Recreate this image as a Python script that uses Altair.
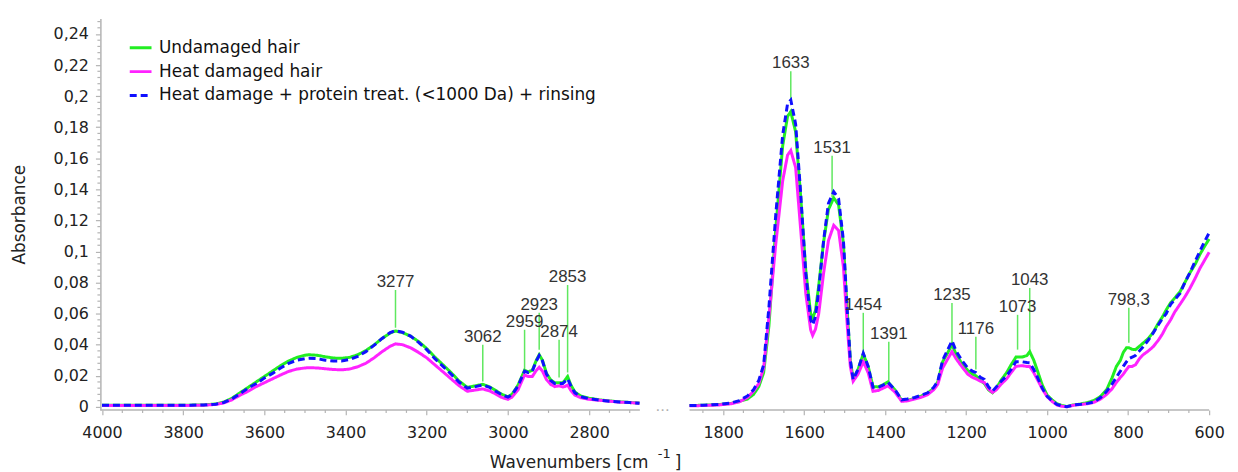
import altair as alt
import pandas as pd

series_names = ["Undamaged hair", "Heat damaged hair",
                "Heat damage + protein treat. (<1000 Da) + rinsing"]
series_colors = ["#22ee22", "#ff22ff", "#1010ff"]
series_dashes = [[1, 0], [1, 0], [7, 4]]

# ---------- left segment (4000 - 2675 cm-1) ----------
left_w = [4000, 3900, 3800, 3750, 3720, 3700, 3680, 3660, 3640, 3620, 3600, 3580, 3560,
          3540, 3520, 3500, 3490, 3470, 3450, 3430, 3410, 3390, 3370, 3350, 3330, 3310,
          3290, 3277, 3260, 3240, 3220, 3200, 3180, 3160, 3140, 3120, 3100, 3080, 3062,
          3045, 3030, 3015, 3000, 2990, 2975, 2965, 2959, 2950, 2940, 2930, 2923, 2915,
          2905, 2895, 2885, 2874, 2865, 2860, 2853, 2845, 2835, 2820, 2800, 2775, 2750,
          2725, 2700, 2676]
left_undamaged = [0.001, 0.001, 0.001, 0.0012, 0.0018, 0.003, 0.0055, 0.009, 0.0125, 0.016,
                  0.0195, 0.023, 0.0265, 0.0295, 0.0318, 0.0332, 0.0335, 0.0332, 0.0322,
                  0.0314, 0.0312, 0.0318, 0.0335, 0.0362, 0.0398, 0.044, 0.0475, 0.0488,
                  0.0478, 0.0455, 0.042, 0.0375, 0.032, 0.027, 0.022, 0.0165, 0.0125, 0.0135,
                  0.0145, 0.0128, 0.0105, 0.008, 0.0065, 0.008, 0.014, 0.020, 0.0235, 0.0225,
                  0.0235, 0.030, 0.0335, 0.030, 0.0215, 0.0175, 0.0155, 0.0155, 0.0155, 0.017,
                  0.0195, 0.014, 0.0095, 0.0068, 0.0055, 0.0045, 0.0038, 0.0032, 0.0028, 0.0024]
left_heat = [0.0008, 0.0008, 0.0008, 0.001, 0.0015, 0.0025, 0.0045, 0.0075, 0.010, 0.013,
             0.0155, 0.018, 0.0205, 0.0228, 0.0243, 0.025, 0.0252, 0.025, 0.0245, 0.024,
             0.0238, 0.0243, 0.0258, 0.028, 0.0315, 0.0355, 0.039, 0.0405, 0.040, 0.038,
             0.035, 0.0315, 0.027, 0.0225, 0.018, 0.0135, 0.010, 0.0108, 0.0115, 0.0102,
             0.0082, 0.006, 0.0048, 0.0062, 0.011, 0.017, 0.0205, 0.0195, 0.0195, 0.0235,
             0.0255, 0.023, 0.0175, 0.0145, 0.013, 0.0135, 0.0128, 0.013, 0.014, 0.0105,
             0.0075, 0.0058, 0.0048, 0.0042, 0.0036, 0.003, 0.0027, 0.0023]
left_treat = [0.001, 0.001, 0.001, 0.0012, 0.0017, 0.0028, 0.005, 0.0085, 0.012, 0.015,
              0.0185, 0.0215, 0.025, 0.028, 0.030, 0.031, 0.0312, 0.031, 0.030, 0.0295,
              0.0295, 0.0305, 0.0325, 0.0355, 0.0395, 0.044, 0.0478, 0.049, 0.048, 0.0455,
              0.0415, 0.0368, 0.031, 0.026, 0.021, 0.0158, 0.012, 0.013, 0.014, 0.0125,
              0.010, 0.0078, 0.0062, 0.0078, 0.0135, 0.0195, 0.023, 0.022, 0.023, 0.0295,
              0.033, 0.0295, 0.021, 0.017, 0.015, 0.015, 0.015, 0.0162, 0.018, 0.0135,
              0.009, 0.0065, 0.0052, 0.0043, 0.0036, 0.0031, 0.0027, 0.0023]

# ---------- right segment (1883 - 600 cm-1) ----------
right_w = [1883, 1850, 1810, 1780, 1760, 1740, 1725, 1712, 1700, 1687, 1670, 1653, 1641,
           1633, 1621, 1609, 1596, 1584, 1579, 1572, 1564, 1552, 1540, 1527, 1515, 1503,
           1494, 1486, 1479, 1467, 1454, 1442, 1430, 1417, 1405, 1393, 1376, 1359, 1345,
           1327, 1310, 1295, 1280, 1270, 1258, 1245, 1235, 1225, 1211, 1196, 1185, 1176,
           1165, 1155, 1145, 1135, 1125, 1114, 1100, 1089, 1077, 1062, 1050, 1043, 1033,
           1025, 1012, 1000, 988, 976, 963, 951, 935, 917, 900, 885, 868, 853, 840, 829,
           819, 812, 804, 798, 790, 782, 772, 763, 750, 738, 725, 715, 706, 695, 685, 672,
           660, 648, 634, 623, 612, 600]
right_undamaged = [0.0008, 0.001, 0.0015, 0.0022, 0.0035, 0.005, 0.008, 0.013, 0.022, 0.052,
                   0.115, 0.168, 0.187, 0.190, 0.177, 0.137, 0.088, 0.060, 0.057, 0.062,
                   0.078, 0.106, 0.127, 0.1345, 0.130, 0.105, 0.063, 0.030, 0.018, 0.024,
                   0.034, 0.026, 0.013, 0.0128, 0.0142, 0.016, 0.011, 0.004, 0.0042, 0.0055,
                   0.007, 0.0088, 0.012, 0.016, 0.029, 0.035, 0.040, 0.034, 0.028, 0.0235,
                   0.021, 0.020, 0.017, 0.015, 0.011, 0.009, 0.012, 0.017, 0.022, 0.027,
                   0.032, 0.032, 0.033, 0.0355, 0.030, 0.024, 0.014, 0.0075, 0.0045, 0.002,
                   0.0008, 0.0002, 0.0012, 0.0018, 0.0028, 0.004, 0.0067, 0.011, 0.0185,
                   0.026, 0.030, 0.035, 0.038, 0.038, 0.037, 0.0368, 0.039, 0.041, 0.044,
                   0.048, 0.054, 0.058, 0.0624, 0.067, 0.070, 0.074, 0.080, 0.086, 0.092,
                   0.098, 0.103, 0.108]
right_heat = [0.0006, 0.0008, 0.0012, 0.002, 0.0032, 0.006, 0.010, 0.015, 0.025, 0.058,
              0.105, 0.1455, 0.162, 0.165, 0.154, 0.1155, 0.073, 0.0496, 0.046, 0.050,
              0.060, 0.086, 0.107, 0.1168, 0.1135, 0.090, 0.054, 0.026, 0.0165, 0.021,
              0.029, 0.022, 0.010, 0.0105, 0.012, 0.0135, 0.0095, 0.0035, 0.0038, 0.005,
              0.0062, 0.0078, 0.011, 0.0145, 0.025, 0.031, 0.0355, 0.031, 0.026, 0.021,
              0.019, 0.018, 0.0165, 0.0157, 0.0115, 0.0093, 0.011, 0.0145, 0.018, 0.022,
              0.026, 0.0265, 0.026, 0.026, 0.022, 0.018, 0.0115, 0.0065, 0.0035, 0.0012,
              0.0003, 0.0, 0.001, 0.0015, 0.002, 0.0028, 0.005, 0.008, 0.0115, 0.0157,
              0.019, 0.021, 0.024, 0.026, 0.026, 0.027, 0.031, 0.0335, 0.036, 0.0387,
              0.043, 0.047, 0.0516, 0.056, 0.061, 0.066, 0.0707, 0.076, 0.083, 0.089,
              0.094, 0.0995]
right_treat = [0.0008, 0.001, 0.0015, 0.0025, 0.004, 0.007, 0.011, 0.017, 0.027, 0.064,
               0.124, 0.175, 0.195, 0.1975, 0.182, 0.139, 0.086, 0.056, 0.0528, 0.058,
               0.075, 0.107, 0.131, 0.1385, 0.134, 0.107, 0.064, 0.030, 0.0176, 0.024,
               0.0345, 0.026, 0.0125, 0.0125, 0.014, 0.0157, 0.011, 0.0045, 0.005, 0.006,
               0.0075, 0.009, 0.0125, 0.0165, 0.030, 0.037, 0.0425, 0.036, 0.030, 0.025,
               0.023, 0.022, 0.019, 0.0176, 0.013, 0.010, 0.013, 0.0163, 0.020, 0.024,
               0.029, 0.029, 0.0285, 0.0284, 0.024, 0.0196, 0.012, 0.0067, 0.004, 0.0016,
               0.0005, 0.0, 0.0012, 0.0016, 0.0022, 0.003, 0.006, 0.010, 0.0145, 0.019,
               0.023, 0.026, 0.029, 0.031, 0.032, 0.033, 0.036, 0.0387, 0.043, 0.0476,
               0.053, 0.057, 0.060, 0.066, 0.069, 0.073, 0.080, 0.086, 0.094, 0.100,
               0.106, 0.112]

# ---------- peak annotations ----------
peak_w = [3277, 3062, 2959, 2923, 2874, 2853, 1633, 1531, 1454, 1391, 1235, 1176, 1073, 1043, 798.3]
peak_label = ["3277", "3062", "2959", "2923", "2874", "2853", "1633", "1531", "1454",
              "1391", "1235", "1176", "1073", "1043", "798,3"]
peak_top = [0.0752, 0.040, 0.0496, 0.0605, 0.0432, 0.0784, 0.216, 0.1616, 0.0605, 0.0419,
            0.0669, 0.0451, 0.0592, 0.0765, 0.0637]
peak_bottom = [0.0509, 0.0163, 0.024, 0.0368, 0.0189, 0.0221, 0.1955, 0.1347, 0.0349, 0.0163,
               0.040, 0.024, 0.0368, 0.0355, 0.0413]

# ---------- axis (broken x axis: two segments) ----------
segment_start = [4004, 1883]
segment_end = [2675, 600]
x_major = [4000, 3800, 3600, 3400, 3200, 3000, 2800, 1800, 1600, 1400, 1200, 1000, 800, 600]
x_minor = ([v for v in range(4000, 2675, -50) if v % 200 != 0]
           + [v for v in range(1850, 599, -50) if v % 200 != 0])
y_major = [0, 0.02, 0.04, 0.06, 0.08, 0.1, 0.12, 0.14, 0.16, 0.18, 0.2, 0.22, 0.24]
y_minor = [round(i * 0.004, 3) for i in range(0, 63) if i % 5 != 0]

W = 1116
H = 394
LEFT_PX = 543
GAP_PX = 50
y_dom = [-0.002, 0.25]
FONT = "DejaVu Sans"
AXC = "#b4b4b4"

xs = alt.Scale(domain=[4004, 2675, 1883, 600],
               range=[0, LEFT_PX, LEFT_PX + GAP_PX, W], nice=False, zero=False)
ys = alt.Scale(domain=y_dom, nice=False, zero=False)

x_axis = alt.Axis(values=x_major, title=None, format="d", tickSize=5, labelPadding=10,
                  domain=False, labelOverlap=False, labelFlush=False)
y_axis = alt.Axis(values=y_major, title="Absorbance", titlePadding=25,
                  labelExpr="replace(format(datum.value, '~g'), '.', ',')",
                  tickSize=5, labelPadding=7, labelOverlap=False, labelFlush=False)

legend = alt.Legend(title=None, orient="none", legendX=28, legendY=17,
                    symbolType="stroke", symbolSize=480, symbolStrokeWidth=3,
                    labelFont=FONT, labelFontSize=17, labelColor="#111",
                    rowPadding=3, padding=0, labelOffset=6, labelLimit=600)
color_enc = alt.Color("series:N", scale=alt.Scale(domain=series_names, range=series_colors),
                      legend=legend)
dash_enc = alt.StrokeDash("series:N", scale=alt.Scale(domain=series_names, range=series_dashes),
                          legend=legend)


def X(field):
    return alt.X(field, type="quantitative", scale=xs, axis=x_axis)


def Y(field):
    return alt.Y(field, type="quantitative", scale=ys, axis=y_axis)


def series_df(w, vals, name):
    return pd.DataFrame({"w": w, "a": vals, "series": [name] * len(w)})


line_layers = []
for seg_w, seg_vals in [(left_w, [left_undamaged, left_heat, left_treat]),
                        (right_w, [right_undamaged, right_heat, right_treat])]:
    for i, name in enumerate(series_names):
        line_layers.append((i, alt.Chart(series_df(seg_w, seg_vals[i], name)).mark_line(
            strokeWidth=3).encode(x=X("w"), y=Y("a"), color=color_enc, strokeDash=dash_enc)))
# draw order: green, magenta, then blue dashed on top
line_layers = [c for _, c in sorted(line_layers, key=lambda t: t[0])]

peaks = pd.DataFrame({"wn": peak_w, "txt": peak_label, "a1": peak_top, "a0": peak_bottom})
rules = alt.Chart(peaks).mark_rule(color="#5fe85f", strokeWidth=1.5).encode(
    x=X("wn"), y=Y("a1"), y2=alt.Y2("a0"))
texts = alt.Chart(peaks).mark_text(baseline="alphabetic", dy=-3, font="Liberation Sans",
                                   fontSize=17, color="#333333").encode(
    x=X("wn"), y=Y("a1"), text="txt:N")

segments = pd.DataFrame({"s": segment_start, "e": segment_end})
baseline = alt.Chart(segments).mark_rule(color=AXC, strokeWidth=1.5).encode(
    x=X("s"), x2=alt.X2("e"), y=alt.value(H))
xminor = alt.Chart(pd.DataFrame({"t": x_minor})).mark_rule(color=AXC, strokeWidth=1.2).encode(
    x=X("t"), y=alt.value(H), y2=alt.value(H + 3))
yminor = alt.Chart(pd.DataFrame({"t": y_minor})).mark_rule(color=AXC, strokeWidth=1.2).encode(
    y=Y("t"), x=alt.value(0), x2=alt.value(-3))

one = pd.DataFrame({"k": [0]})
title_main = alt.Chart(one).mark_text(
    text="Wavenumbers [cm", font=FONT, fontSize=17, color="#222", align="left",
    baseline="alphabetic").encode(x=alt.value(392), y=alt.value(452))
title_sup = alt.Chart(one).mark_text(
    text="-1", font=FONT, fontSize=13, color="#222", align="left",
    baseline="alphabetic").encode(x=alt.value(561), y=alt.value(442))
title_end = alt.Chart(one).mark_text(
    text="]", font=FONT, fontSize=17, color="#222", align="left",
    baseline="alphabetic").encode(x=alt.value(578), y=alt.value(452))
ellipsis = alt.Chart(one).mark_text(
    text="...", font=FONT, fontSize=15, color="#b0b0b0", align="center",
    baseline="alphabetic").encode(x=alt.value(566), y=alt.value(395))

chart = alt.layer(
    rules, *line_layers, texts, baseline, xminor, yminor,
    title_main, title_sup, title_end, ellipsis,
).properties(
    width=W, height=H, padding={"left": 2, "top": 9, "right": 5, "bottom": 5}
).configure_view(stroke=None).configure_axis(
    grid=False, domainColor=AXC, tickColor=AXC, domainWidth=1.5,
    tickWidth=1.2, labelFont=FONT, labelFontSize=16, labelColor="#222",
    titleFont=FONT, titleFontSize=17, titleColor="#222", titleFontWeight="normal",
)

chart.save("out.html", embed_options={"renderer": "svg", "actions": False})
